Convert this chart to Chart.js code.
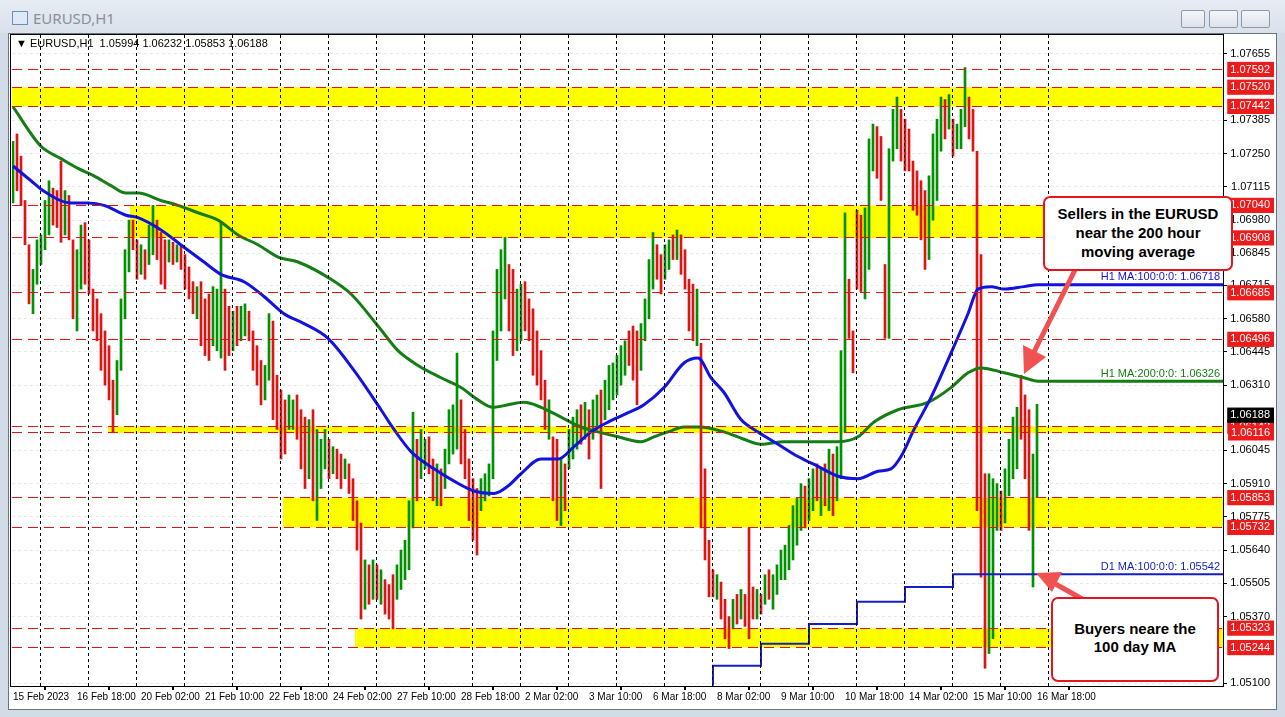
<!DOCTYPE html>
<html>
<head>
<meta charset="utf-8">
<script src="https://cdn.jsdelivr.net/npm/chart.js@4.4.1/dist/chart.umd.min.js"></script>
<style>
  html, body { margin: 0; padding: 0; }
  body { width: 1285px; height: 717px; position: relative; overflow: hidden; background: #d3dbe6; font-family: "Liberation Sans", Arial, sans-serif; }
  #titlebar { position: absolute; left: 0; top: 0; width: 1285px; height: 33px; background: linear-gradient(#e7ecf3, #d9e1eb); }
  #title { position: absolute; left: 33px; top: 8px; font: 15px "Noto Sans", sans-serif; color: #8a9099; }
  #icon { position: absolute; left: 12px; top: 11px; width: 14px; height: 12px; border: 1px solid #6c8fb8; background: #dfe9f5; }
  .btn { position: absolute; top: 10px; height: 16px; border: 1px solid #8d99a8; border-radius: 2px; background: linear-gradient(#f4f6f9, #dde3ea); }
  #panel { position: absolute; left: 8px; top: 33px; width: 1267px; height: 675px; background: #fff; border: 1px solid #6d747c; }
  #chartWrap { position: absolute; left: 12px; top: 35px; width: 1263px; height: 673px; }
  #frame { position: absolute; left: 10px; top: 34px; width: 1212px; height: 651px; border: 1px solid #000; pointer-events: none; }
  #hdr { position: absolute; left: 16px; top: 37px; font-size: 11px; color: #000; white-space: pre; }
  .callout { position: absolute; background: #fff; border: 2px solid #e3161d; border-radius: 7px; font: bold 15px "Liberation Sans", Arial, sans-serif; color: #000; text-align: center; box-sizing: border-box; }
  #arrows { position: absolute; left: 0; top: 0; pointer-events: none; }
</style>
</head>
<body>
<div id="titlebar">
  <div id="icon"></div>
  <div id="title">EURUSD,H1</div>
  <div class="btn" style="left:1181px;width:22px;"></div>
  <div class="btn" style="left:1209px;width:27px;"></div>
  <div class="btn" style="left:1241px;width:27px;"></div>
</div>
<div id="panel"></div>
<div id="chartWrap"><canvas id="priceChart" width="1263" height="673"></canvas></div>
<div id="frame"></div>
<div id="hdr">▼ EURUSD,H1  1.05994 1.06232 1.05853 1.06188</div>
<svg id="arrows" width="1285" height="717">
  <line x1="1076" y1="268" x2="1034" y2="352" stroke="#f05252" stroke-width="5"/>
  <polygon points="1024,374 1023,345 1046,357" fill="#f05252"/>
  <line x1="1084" y1="600" x2="1052" y2="582" stroke="#f05252" stroke-width="5"/>
  <polygon points="1036,573 1062,572 1052,592" fill="#f05252"/>
</svg>
<div class="callout" style="left:1043px;top:196px;width:190px;height:75px;padding-top:6px;line-height:19px;">Sellers in the EURUSD<br>near the 200 hour<br>moving average</div>
<div class="callout" style="left:1051px;top:597px;width:168px;height:85px;padding-top:21px;line-height:18px;">Buyers neare the<br>100 day MA</div>

<script>
// price axis ticks and levels
const yTickValues = [1.07655, 1.07385, 1.07250, 1.07115, 1.06980, 1.06845, 1.06715, 1.06580, 1.06445,
  1.06310, 1.06045, 1.05910, 1.05775, 1.05640, 1.05505, 1.05370, 1.05100];
const levelValues = [1.07592, 1.07520, 1.07442, 1.07040, 1.06908, 1.06685, 1.06496, 1.06142, 1.06116,
  1.05853, 1.05732, 1.05323, 1.05244];
const lastPrice = 1.06188;

// yellow zones (start = hour index where the box begins)
const bandTop = [1.07520, 1.07040, 1.06142, 1.05853, 1.05323];
const bandBottom = [1.07442, 1.06908, 1.06116, 1.05732, 1.05244];
const bandStart = [-0.5, 58.5, 47.5, 135, 171];

// time axis (hour index from 15 Feb 10:00)
const xLabels = ["15 Feb 2023", "16 Feb 18:00", "20 Feb 02:00", "21 Feb 10:00", "22 Feb 18:00", "24 Feb 02:00",
  "27 Feb 10:00", "28 Feb 18:00", "2 Mar 02:00", "3 Mar 10:00", "6 Mar 18:00", "8 Mar 02:00", "9 Mar 10:00",
  "10 Mar 18:00", "14 Mar 02:00", "15 Mar 10:00", "16 Mar 18:00"];
const xLabelHours = [0, 32, 64, 96, 128, 160, 192, 224, 256, 288, 320, 352, 384, 416, 448, 480, 512];
// midnight boundaries (between the 23:00 and 00:00 bars)
const daySepHours = [13.5, 37.5, 61.5, 85.5, 109.5, 133.5, 157.5, 181.5, 205.5, 229.5, 253.5, 277.5, 301.5,
  325.5, 349.5, 373.5, 397.5, 421.5, 445.5, 469.5, 493.5, 517.5];

// 2-hour bars, one array group per trading week
const wk1High = [1.0730, 1.0733, 1.0724, 1.0706, 1.0688, 1.0678, 1.0690, 1.0692, 1.0706, 1.0714, 1.0711, 1.0710,
  1.0722, 1.0710, 1.0708, 1.0690, 1.0686, 1.0696, 1.0697, 1.0690, 1.0670, 1.0666, 1.0660, 1.0653, 1.0647,
  1.0633, 1.0641, 1.0666, 1.0686, 1.0698, 1.0698];
const wk1Low = [1.0705, 1.0710, 1.0704, 1.0688, 1.0664, 1.0660, 1.0672, 1.0680, 1.0686, 1.0692, 1.0696, 1.0695,
  1.0689, 1.0692, 1.0690, 1.0658, 1.0653, 1.0670, 1.0672, 1.0668, 1.0653, 1.0649, 1.0637, 1.0631, 1.0625,
  1.0612, 1.0619, 1.0637, 1.0658, 1.0677, 1.0686];
const wk1Dir = "udddduuuuudddudduudddddddduuuud";

const wk2High = [1.0690, 1.0688, 1.0686, 1.0696, 1.0704, 1.0698, 1.0693, 1.0690, 1.0690, 1.0689,
  1.0688, 1.0688, 1.0684, 1.0679, 1.0673, 1.0671, 1.0673, 1.0666, 1.0668, 1.0671,
  1.0670, 1.0697, 1.0670, 1.0663, 1.0661, 1.0663, 1.0663, 1.0664, 1.0661, 1.0653,
  1.0647, 1.0641, 1.0639, 1.0660, 1.0657, 1.0635, 1.0629, 1.0625, 1.0627, 1.0625,
  1.0627, 1.0621, 1.0618, 1.0617, 1.0621, 1.0613, 1.0609, 1.0613, 1.0609, 1.0606,
  1.0605, 1.0603, 1.0601, 1.0599, 1.0593, 1.0584, 1.0575, 1.0560, 1.0558, 1.0560];
const wk2Low = [1.0674, 1.0676, 1.0674, 1.0680, 1.0684, 1.0682, 1.0672, 1.0670, 1.0681, 1.0680,
  1.0681, 1.0678, 1.0670, 1.0666, 1.0660, 1.0658, 1.0647, 1.0643, 1.0641, 1.0647,
  1.0645, 1.0642, 1.0637, 1.0643, 1.0645, 1.0647, 1.0649, 1.0651, 1.0649, 1.0637,
  1.0631, 1.0623, 1.0625, 1.0633, 1.0617, 1.0613, 1.0601, 1.0603, 1.0613, 1.0613,
  1.0609, 1.0597, 1.0589, 1.0593, 1.0584, 1.0576, 1.0589, 1.0597, 1.0593, 1.0595,
  1.0593, 1.0589, 1.0593, 1.0587, 1.0576, 1.0564, 1.0536, 1.0540, 1.0542, 1.0544];
const wk2Dir = "duduudddud" + "uddddudddu" + "uudduduudd" + "dduudddduu" + "ddduduuudu" + "dduddddudu";

const wk3High = [1.0558, 1.0556, 1.0552, 1.0550, 1.0554, 1.0558, 1.0564, 1.0568, 1.0584, 1.0620,
  1.0609, 1.0613, 1.0609, 1.0610, 1.0601, 1.0599, 1.0597, 1.0605, 1.0621, 1.0623,
  1.0644, 1.0625, 1.0613, 1.0601, 1.0593, 1.0589, 1.0593, 1.0595, 1.0599, 1.0653,
  1.0678, 1.0686, 1.0691, 1.0680, 1.0678, 1.0670, 1.0672, 1.0673, 1.0666, 1.0662,
  1.0653, 1.0645, 1.0633, 1.0625, 1.0610, 1.0609, 1.0601, 1.0599, 1.0613, 1.0618,
  1.0621, 1.0623, 1.0624, 1.0621, 1.0625, 1.0627, 1.0629, 1.0633, 1.0639, 1.0640];
const wk3Low = [1.0544, 1.0542, 1.0538, 1.0536, 1.0532, 1.0544, 1.0548, 1.0552, 1.0556, 1.0573,
  1.0584, 1.0593, 1.0597, 1.0595, 1.0584, 1.0582, 1.0582, 1.0589, 1.0599, 1.0603,
  1.0605, 1.0599, 1.0593, 1.0576, 1.0568, 1.0562, 1.0580, 1.0584, 1.0586, 1.0593,
  1.0641, 1.0653, 1.0666, 1.0653, 1.0643, 1.0645, 1.0649, 1.0653, 1.0649, 1.0635,
  1.0631, 1.0625, 1.0613, 1.0609, 1.0584, 1.0576, 1.0574, 1.0580, 1.0597, 1.0601,
  1.0605, 1.0607, 1.0609, 1.0601, 1.0609, 1.0613, 1.0589, 1.0617, 1.0621, 1.0625];
const wk3Dir = "duddduuuuu" + "duudduduuu" + "uddddduuuu" + "uuudduuddd" + "dddudduduu" + "ududuuduuu";

const wk4High = [1.0643, 1.0647, 1.0649, 1.0653, 1.0655, 1.0653, 1.0656, 1.0666, 1.0682, 1.0693,
  1.0688, 1.0684, 1.0688, 1.0690, 1.0692, 1.0694, 1.0692, 1.0686, 1.0674, 1.0672,
  1.0670, 1.0648, 1.0597, 1.0568, 1.0556, 1.0554, 1.0551, 1.0544, 1.0537, 1.0544,
  1.0546, 1.0548, 1.0546, 1.0573, 1.0549, 1.0548, 1.0546, 1.0554, 1.0556, 1.0554,
  1.0558, 1.0564, 1.0566, 1.0574, 1.0582, 1.0585, 1.0591, 1.0590, 1.0593, 1.0597,
  1.0599, 1.0597, 1.0599, 1.0605, 1.0603, 1.0606, 1.0645, 1.0701, 1.0674, 1.0653];
const wk4Low = [1.0627, 1.0631, 1.0635, 1.0639, 1.0633, 1.0623, 1.0637, 1.0649, 1.0658, 1.0670,
  1.0674, 1.0668, 1.0674, 1.0678, 1.0682, 1.0682, 1.0676, 1.0670, 1.0653, 1.0649,
  1.0647, 1.0573, 1.0560, 1.0545, 1.0545, 1.0544, 1.0536, 1.0528, 1.0524, 1.0532,
  1.0534, 1.0536, 1.0533, 1.0528, 1.0536, 1.0536, 1.0538, 1.0542, 1.0544, 1.0540,
  1.0546, 1.0552, 1.0552, 1.0556, 1.0560, 1.0566, 1.0572, 1.0573, 1.0576, 1.0580,
  1.0584, 1.0578, 1.0582, 1.0580, 1.0578, 1.0584, 1.0593, 1.0612, 1.0650, 1.0636];
const wk4Dir = "uuuddduuuu" + "dduududddd" + "uddddudddu" + "dudddududu" + "uuuuuuuduu" + "dududuuudd";

const wk5High = [1.0702, 1.0700, 1.0703, 1.0731, 1.0737, 1.0736, 1.0732, 1.0680, 1.0727, 1.0743,
  1.0748, 1.0743, 1.0739, 1.0735, 1.0722, 1.0718, 1.0714, 1.0710, 1.0716, 1.0733,
  1.0739, 1.0748, 1.0747, 1.0749, 1.0739, 1.0737, 1.0743, 1.0760, 1.0748, 1.0743,
  1.0726, 1.0684, 1.0595, 1.0595, 1.0593, 1.0591, 1.0588, 1.0597, 1.0609, 1.0618,
  1.0622, 1.0635, 1.0627, 1.0621, 1.0603, 1.06232];
const wk5Low = [1.0670, 1.0669, 1.0666, 1.0678, 1.0718, 1.0715, 1.0706, 1.0650, 1.0650, 1.0722,
  1.0727, 1.0722, 1.0718, 1.0718, 1.0702, 1.0700, 1.0690, 1.0678, 1.0682, 1.0698,
  1.0706, 1.0726, 1.0731, 1.0735, 1.0724, 1.0727, 1.0727, 1.0736, 1.0731, 1.0726,
  1.0580, 1.0553, 1.0516, 1.0522, 1.0528, 1.0572, 1.0572, 1.0575, 1.0586, 1.0593,
  1.0597, 1.0609, 1.0593, 1.0572, 1.0549, 1.05853];
const wk5Dir = "dduuuddduu" + "uddddddduu" + "uududuuudd" + "ddduuuduuu" + "uddduu";

// moving averages (hour index, price)
const ma100Hours = [0, 9, 15, 29, 37.5, 45.5, 56.5, 62.5, 74, 85.5, 95.5, 104, 115.5, 125.5, 135.5, 145.5,
  157.5, 170.5, 184, 190.5, 199, 210.5, 220.5, 230.5, 240.5, 247.5, 254, 264, 272.5, 280.5, 289, 297.5,
  305.5, 315.5, 325.5, 335.5, 342.5, 349, 355.5, 364, 372.5, 382.5, 392.5, 402.5, 412.5, 422.5, 432.5,
  439, 444, 450.5, 459, 469, 477.5, 482.5, 489, 495.5, 505.5, 512.5, 605];
const ma100Values = [1.0720, 1.0714, 1.0710, 1.0705, 1.0705, 1.0704, 1.0700, 1.0699, 1.0694, 1.0687, 1.0681,
  1.0676, 1.0673, 1.0667, 1.0660, 1.0656, 1.0650, 1.0637, 1.0621, 1.0613, 1.0604, 1.0597, 1.0592, 1.0588,
  1.0587, 1.0590, 1.0595, 1.0601, 1.0601, 1.0606, 1.0612, 1.0616, 1.0619, 1.0623, 1.0630, 1.0640, 1.0642,
  1.0634, 1.0628, 1.0617, 1.0612, 1.0607, 1.0602, 1.0598, 1.0594, 1.0593, 1.0596, 1.0597, 1.0602, 1.0613,
  1.0626, 1.0644, 1.0660, 1.0670, 1.0671, 1.0670, 1.0671, 1.06718, 1.06718];

const ma200Hours = [0, 14, 24, 32.5, 40.5, 49, 56.5, 62.5, 74, 82.5, 92.5, 102.5, 112.5, 122.5, 132.5, 142.5,
  159, 169, 182.5, 192.5, 202.5, 214, 224, 232.5, 240, 247.5, 255.5, 264, 274, 284, 292.5, 302.5, 314,
  320.5, 327.5, 335.5, 343, 355.5, 365.5, 374, 385.5, 399, 412.5, 422.5, 430.5, 442.5, 457.5, 469, 477.5,
  484, 495.5, 505.5, 512.5, 605];
const ma200Values = [1.0744, 1.0728, 1.0723, 1.0719, 1.0716, 1.0712, 1.0709, 1.0709, 1.0706, 1.0704, 1.0701,
  1.0698, 1.0692, 1.0688, 1.0683, 1.0681, 1.0674, 1.0668, 1.0655, 1.0645, 1.0639, 1.0634, 1.0630, 1.0625,
  1.0622, 1.0623, 1.0624, 1.0622, 1.0618, 1.0614, 1.0612, 1.0610, 1.0608, 1.0610, 1.0612, 1.0614, 1.0614,
  1.0612, 1.0609, 1.0607, 1.0608, 1.0608, 1.0608, 1.0610, 1.0616, 1.0621, 1.0624, 1.0630, 1.0636, 1.0638,
  1.0636, 1.0634, 1.06326, 1.06326];

const d1Hours = [350, 374, 398, 422, 446, 470, 494, 605];
const d1Values = [1.0509, 1.0517, 1.0526, 1.0534, 1.0543, 1.0549, 1.05542, 1.05542];

const Y_MIN = 1.05088, Y_MAX = 1.07732, X_MIN = -0.5, X_MAX = 605;
const UP = 'rgb(0,145,0)', DOWN = 'rgb(222,20,20)';

const barHigh = [...wk1High, ...wk2High, ...wk3High, ...wk4High, ...wk5High];
const barLow = [...wk1Low, ...wk2Low, ...wk3Low, ...wk4Low, ...wk5Low];
const barDir = wk1Dir + wk2Dir + wk3Dir + wk4Dir + wk5Dir;

const bars = barHigh.map((h, k) => ({x: k * 2, y: [barLow[k], h]}));
const pairs = (xs, ys) => xs.map((x, i) => ({x, y: ys[i]}));

// price axes take no layout room (labels are mirrored into the right padding)
function noWidth(scale) {
  scale.width = 0;
  scale.paddingTop = scale.paddingBottom = 0;
}
function axisHeight(h) {
  return scale => {
    scale.height = h;
    scale.paddingLeft = scale.paddingRight = 0;
  };
}
const fixTicks = values => scale => { scale.ticks = values.map(v => ({value: v})); };

const datasets = [];
bandTop.forEach((top, i) => {
  datasets.push({
    type: 'line', data: [{x: bandStart[i], y: top}, {x: X_MAX, y: top}],
    borderWidth: 0, pointRadius: 0, fill: '+1', backgroundColor: '#ffff00', order: 10
  });
  datasets.push({
    type: 'line', data: [{x: bandStart[i], y: bandBottom[i]}, {x: X_MAX, y: bandBottom[i]}],
    borderWidth: 0, pointRadius: 0, fill: false, order: 10
  });
});
datasets.push({
  type: 'bar', data: bars, barThickness: 2, borderWidth: 0,
  backgroundColor: bars.map((b, k) => barDir[k] === 'u' ? UP : DOWN), order: 5
});
datasets.push({
  type: 'line', data: pairs(ma200Hours, ma200Values), borderColor: 'rgb(20,125,20)', borderWidth: 3,
  pointRadius: 0, cubicInterpolationMode: 'monotone', order: 2, maLabel: 'H1 MA:200:0:0:'
});
datasets.push({
  type: 'line', data: pairs(ma100Hours, ma100Values), borderColor: 'rgb(18,18,225)', borderWidth: 3,
  pointRadius: 0, cubicInterpolationMode: 'monotone', order: 1, maLabel: 'H1 MA:100:0:0:'
});
datasets.push({
  type: 'line', data: pairs(d1Hours, d1Values), borderColor: 'rgb(20,30,200)', borderWidth: 2,
  pointRadius: 0, stepped: 'after', order: 1, maLabel: 'D1 MA:100:0:0:'
});

// dotted day separators, placed with the x scale (short 1px dashes)
const daySeparators = {
  id: 'daySeparators',
  afterDatasetsDraw(chart) {
    const {ctx, chartArea, scales} = chart;
    ctx.save();
    ctx.fillStyle = '#000';
    daySepHours.forEach(h => {
      const px = Math.round(scales.x.getPixelForValue(h));
      for (let y = Math.round(chartArea.top); y < chartArea.bottom; y += 6) {
        ctx.fillRect(px, y, 1, Math.min(3, chartArea.bottom - y));
      }
    });
    ctx.restore();
  }
};

const maLabels = {
  id: 'maLabels',
  afterDatasetsDraw(chart) {
    const {ctx, chartArea, scales} = chart;
    ctx.save();
    ctx.font = '11px "Liberation Sans", Arial, sans-serif';
    ctx.textAlign = 'right';
    ctx.textBaseline = 'bottom';
    chart.data.datasets.forEach(ds => {
      if (!ds.maLabel) return;
      const last = ds.data[ds.data.length - 1];
      ctx.fillStyle = ds.borderColor;
      ctx.fillText(ds.maLabel + ' ' + last.y.toFixed(5), chartArea.right - 3, scales.y.getPixelForValue(last.y) - 2);
    });
    ctx.restore();
  }
};

const tickFont = {family: '"Liberation Sans", Arial, sans-serif', size: 11};
const priceLabel = v => v.toFixed(5);

new Chart(document.getElementById('priceChart'), {
  type: 'line',
  data: {datasets},
  plugins: [daySeparators, maLabels],
  options: {
    responsive: false,
    animation: false,
    events: [],
    layout: {padding: {left: 0, top: 0, right: 52, bottom: 0}},
    plugins: {legend: {display: false}, tooltip: {enabled: false}},
    scales: {
      x: {
        type: 'linear', position: 'bottom', min: X_MIN, max: X_MAX, offset: false,
        afterFit: axisHeight(22), afterBuildTicks: fixTicks(xLabelHours),
        ticks: {autoSkip: false, maxRotation: 0, minRotation: 0, align: 'start', padding: 1,
          color: '#000', font: {family: tickFont.family, size: 10}, callback: (v, i) => xLabels[i]},
        grid: {drawOnChartArea: false, tickLength: 4, tickColor: '#000', lineWidth: 2},
        border: {display: false}
      },
      y: {
        type: 'linear', position: 'right', min: Y_MIN, max: Y_MAX,
        afterFit: noWidth, afterBuildTicks: fixTicks(yTickValues),
        ticks: {autoSkip: false, mirror: true, padding: 47, color: '#000', font: tickFont, callback: priceLabel},
        grid: {color: '#e8e8e8', tickColor: '#000', tickLength: 4},
        border: {display: false, dash: [3, 3]}
      },
      yLevel: {
        type: 'linear', position: 'right', min: Y_MIN, max: Y_MAX,
        afterFit: noWidth, afterBuildTicks: fixTicks(levelValues),
        ticks: {autoSkip: false, mirror: true, padding: 47, color: '#fff', font: tickFont, z: 1,
          showLabelBackdrop: true, backdropColor: '#ec1c1c',
          backdropPadding: {top: 1, bottom: 1, left: 3, right: 4}, callback: priceLabel},
        grid: {color: '#e01414', lineWidth: 1, drawTicks: false, z: 1},
        border: {display: false, dash: [10, 6]}
      },
      yPrice: {
        type: 'linear', position: 'right', min: Y_MIN, max: Y_MAX,
        afterFit: noWidth, afterBuildTicks: fixTicks([lastPrice]),
        ticks: {autoSkip: false, mirror: true, padding: 47, color: '#fff', font: tickFont, z: 2,
          showLabelBackdrop: true, backdropColor: '#000',
          backdropPadding: {top: 1, bottom: 1, left: 3, right: 4}, callback: priceLabel},
        grid: {display: false},
        border: {display: false}
      }
    }
  }
});
</script>
</body>
</html>
